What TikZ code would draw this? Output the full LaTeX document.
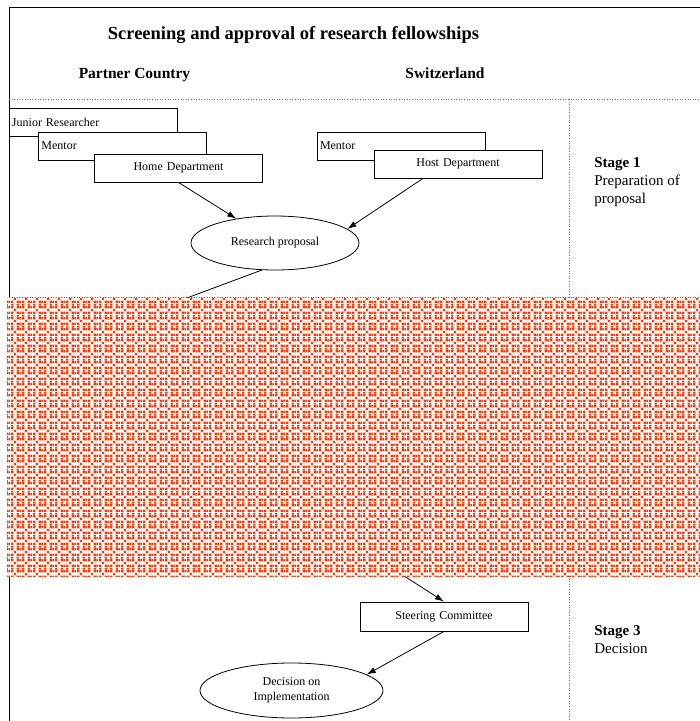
\documentclass[tikz,border=0pt]{standalone}
\usepackage{fontspec}
\setmainfont{Liberation Serif}
\usetikzlibrary{shapes.geometric,arrows.meta,patterns,positioning}
\definecolor{maskred}{RGB}{255,51,0}
\definecolor{rulegray}{gray}{0.45}
\newcommand{\maskdot}[4]{\pgfpathrectangle{\pgfqpoint{#1pt}{#2pt}}{\pgfqpoint{#3pt}{#4pt}}}
\pgfdeclarepatternformonly{redcross}{\pgfpointorigin}{\pgfqpoint{11pt}{11pt}}{\pgfqpoint{11pt}{11pt}}{%
  \maskdot{0}{0}{2.5}{2.5}\maskdot{6}{0}{2.5}{2.5}%
  \maskdot{3}{3}{2.5}{2.5}%
  \maskdot{0}{6}{2.5}{2.5}\maskdot{6}{6}{2.5}{2.5}%
  \maskdot{9}{0}{2}{2.5}\maskdot{9}{6}{2}{2.5}%
  \maskdot{0}{9}{2.5}{2}\maskdot{6}{9}{2.5}{2}%
  \pgfusepath{fill}}
\tikzset{>={Latex[length=9pt,width=6pt]}}

\begin{document}
\begin{tikzpicture}[x=1pt,y=-1pt,line width=0.8pt]
  \tikzstyle{deptbox}=[draw, fill=white, minimum height=28pt, inner sep=3pt, text width=162pt, font=\fontsize{12}{14}\selectfont]
  \tikzstyle{leftbox}=[deptbox, align=left]
  \tikzstyle{midbox}=[deptbox, align=center]
  \tikzstyle{outcome}=[draw, ellipse, fill=white, inner sep=0pt, align=center, font=\fontsize{12}{15}\selectfont]
  \tikzstyle{heading}=[anchor=base, inner sep=0pt, font=\fontsize{15.5}{18}\selectfont\bfseries]
  \tikzstyle{stagenote}=[anchor=north west, align=left, inner sep=0pt, font=\fontsize{15}{18}\selectfont]
  \tikzstyle{divider}=[rulegray, dotted, line width=0.6pt]
  \useasboundingbox (0,0) rectangle (700,721);

  % frame and dividers
  \draw (700,7) -- (9,7) -- (9,721);
  \draw[divider] (9,99) -- (700,99);
  \draw[divider] (9,297) -- (700,297);
  \draw[divider] (569,99) -- (569,297);
  \draw[divider] (569,576) -- (569,721);

  % headings
  \node[heading, font=\fontsize{18.5}{21}\selectfont\bfseries] (title) at (293.5,39) {Screening and approval of research fellowships};
  \node[heading] (partner) at (134.5,78) {Partner Country};
  \node[heading] (swiss) at (445,78) {Switzerland};

  % stage 1
  \node[leftbox] (junior) at (93,122) {Junior Researcher};
  \node[leftbox] (mentorA) at (122.5,146) {Mentor};
  \node[midbox] (home) at (178.5,168) {Home Department};
  \node[leftbox] (mentorB) at (401,146) {Mentor};
  \node[midbox] (host) at (458,164) {Host Department};
  \node[outcome, minimum width=168pt, minimum height=54pt] (rp) at (275,243) {Research proposal};
  \node[stagenote] (stage1) at (594,157) {\textbf{Stage 1}\\Preparation of\\proposal};
  \coordinate (cutA) at (176,302);
  \path[->] (home.south) edge (rp);
  \path[->] ([xshift=-35pt]host.south) edge (rp.11);
  \path (rp.244) edge (cutA);

  % stage 3
  \coordinate (cutB) at (398,572);
  \node[midbox, minimum height=29pt] (steer) at (444,616.5) {Steering Committee};
  \node[outcome, minimum width=183pt, minimum height=55pt] (dec) at (291.5,690.5) {Decision on\\Implementation};
  \node[stagenote] (stage3) at (594,625) {\textbf{Stage 3}\\Decision};
  \path[->] (cutB) edge (steer.north);
  \path[->] (steer.south) edge (dec.12);

  % masked band
  \fill[white] (7,297.5) rectangle (700,576);
  \fill[pattern=redcross, pattern color=maskred] (7,297.5) rectangle (700,576);
\end{tikzpicture}
\end{document}
